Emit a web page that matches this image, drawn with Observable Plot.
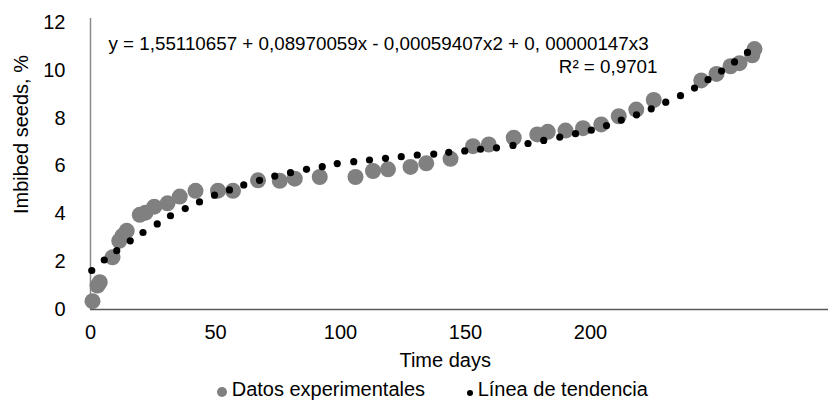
<!DOCTYPE html>
<html><head><meta charset="utf-8">
<script src="https://cdn.jsdelivr.net/npm/d3@7"></script>
<script src="https://cdn.jsdelivr.net/npm/@observablehq/plot@0.6"></script>
<style>
body{margin:0;background:#fff;}
#wrap{position:relative;width:828px;height:401px;font-family:"Liberation Sans",Arial,sans-serif;overflow:hidden;}
#legend{position:absolute;left:0;top:379px;height:21px;width:828px;font-size:20px;line-height:21px;color:#000;}
#legend .sw{position:absolute;border-radius:50%;}
#legend .lb{position:absolute;top:0;white-space:nowrap;}
</style></head><body><div id="wrap"><div id="chart"></div><div id="legend"></div></div>
<script>
const expDays = [0.8, 2.8, 3.7, 8.8, 11.5, 12.8, 14.5, 19.7, 22, 25.5, 30.8, 35.7, 42, 51, 57, 67, 75.7, 81.7, 91.7, 106, 113, 119, 128, 134.3, 144, 153, 159.3, 169.3, 178.7, 182.9, 190, 197, 204.3, 211.3, 218.3, 225.3, 244.3, 250.4, 256, 259.6, 264.7, 265.6];
const expValues = [0.35, 1.0, 1.14, 2.18, 2.87, 3.08, 3.29, 3.96, 4.05, 4.3, 4.44, 4.72, 4.96, 4.97, 4.96, 5.4, 5.38, 5.47, 5.54, 5.54, 5.79, 5.86, 5.96, 6.11, 6.3, 6.83, 6.9, 7.18, 7.32, 7.43, 7.48, 7.58, 7.74, 8.08, 8.36, 8.76, 9.58, 9.85, 10.17, 10.3, 10.63, 10.89];
const trendDays = [0.5, 5.5, 10.5, 15.9, 21, 26.7, 32, 37.9, 43.6, 49.6, 55.6, 61.3, 67.6, 73.7, 80, 86.4, 92.7, 98.7, 105.3, 111.6, 118, 124.3, 130.7, 137.3, 143.3, 149.7, 156, 162.4, 169, 175, 181.3, 187.7, 194, 200.3, 206.4, 212.3, 218.4, 224.3, 230.1, 236, 241.6, 247, 252.4, 257.6, 262.8];
const trendValues = [1.63, 2.07, 2.46, 2.87, 3.22, 3.58, 3.92, 4.22, 4.5, 4.78, 5.0, 5.21, 5.4, 5.58, 5.72, 5.86, 5.97, 6.1, 6.18, 6.25, 6.32, 6.39, 6.46, 6.5, 6.57, 6.63, 6.7, 6.76, 6.86, 6.94, 7.07, 7.21, 7.35, 7.5, 7.69, 7.92, 8.14, 8.39, 8.67, 8.94, 9.26, 9.61, 9.97, 10.35, 10.75];
const xTicks = [0, 50, 100, 150, 200];
const yTicks = [0, 2, 4, 6, 8, 10, 12];
const equationText = "y = 1,55110657 + 0,08970059x - 0,00059407x2 + 0, 00000147x3";
const r2Text = "R² = 0,9701";
const xTitle = "Time days";
const yTitle = "Imbibed seeds, %";
const seriesNames = ["Datos experimentales", "Línea de tendencia"];
const seriesColors = ["#808080", "#000000"];

const expData = expDays.map((d, i) => ({day: d, value: expValues[i]}));
const trendData = trendDays.map((d, i) => ({day: d, value: trendValues[i]}));

const chart = Plot.plot({
  width: 828,
  height: 372,
  marginLeft: 90,
  marginRight: 0,
  marginTop: 22,
  marginBottom: 63,
  style: {fontFamily: "'Liberation Sans', Arial, sans-serif", fontSize: "20px", color: "#000", background: "#fff"},
  x: {domain: [0, 295.2]},
  y: {domain: [0, 12]},
  marks: [
    Plot.ruleX([0], {stroke: "#8a8a8a", strokeWidth: 1.5, insetTop: -4}),
    Plot.ruleY([0], {stroke: "#595959", strokeWidth: 1.5}),
    Plot.dot(expData, {x: "day", y: "value", r: 8, fill: seriesColors[0], stroke: null}),
    Plot.dot(trendData, {x: "day", y: "value", r: 3.6, fill: seriesColors[1], stroke: null}),
    Plot.axisX({ticks: xTicks, tickSize: 0, tickPadding: 15, fontSize: 20, label: null}),
    Plot.axisY({ticks: yTicks, tickSize: 0, tickPadding: 25, fontSize: 20, label: null}),
    Plot.text([equationText], {frameAnchor: "top-left", dx: 18, dy: 21, textAnchor: "start", lineAnchor: "middle", fontSize: 18.8, fill: "#000"}),
    Plot.text([r2Text], {frameAnchor: "top-left", dx: 567, dy: 44.7, textAnchor: "end", lineAnchor: "middle", fontSize: 18.8, fill: "#000"}),
    Plot.text([xTitle], {frameAnchor: "bottom-left", dx: 354.7, dy: 50.6, textAnchor: "middle", lineAnchor: "middle", fontSize: 20, fill: "#000"}),
    Plot.text([yTitle], {frameAnchor: "left", dx: -69.4, dy: -31.5, rotate: -90, textAnchor: "middle", lineAnchor: "middle", fontSize: 20, fill: "#000"})
  ]
});
document.getElementById("chart").appendChild(chart);

const legend = document.getElementById("legend");
const legendLayout = [
  {swLeft: 216.7, swTop: 8, size: 10, textLeft: 231.7},
  {swLeft: 467, swTop: 11, size: 6, textLeft: 477.7}
];
seriesNames.forEach((name, i) => {
  const sw = document.createElement("span");
  sw.className = "sw";
  const L = legendLayout[i];
  sw.style.left = L.swLeft + "px";
  sw.style.top = L.swTop + "px";
  sw.style.width = L.size + "px";
  sw.style.height = L.size + "px";
  sw.style.background = seriesColors[i];
  legend.appendChild(sw);
  const lb = document.createElement("span");
  lb.className = "lb";
  lb.style.left = L.textLeft + "px";
  lb.textContent = name;
  legend.appendChild(lb);
});
</script>
</body></html>
